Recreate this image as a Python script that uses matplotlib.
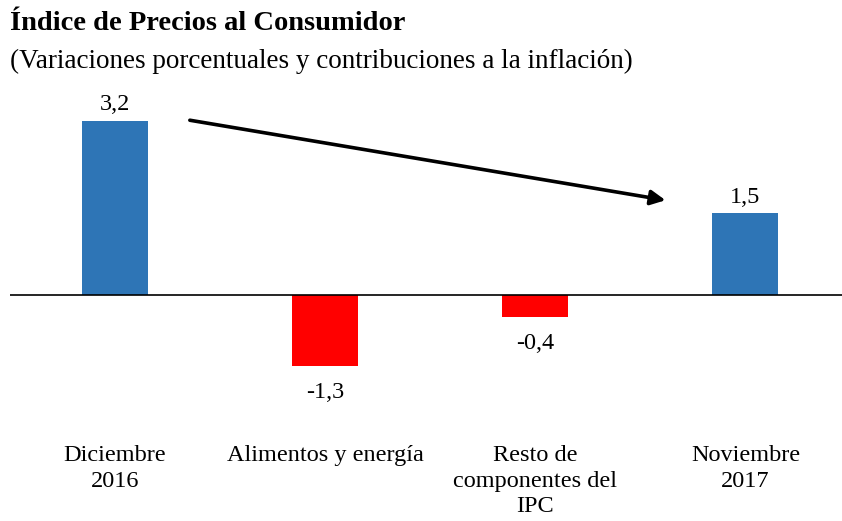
import matplotlib
matplotlib.use("Agg")
import matplotlib.pyplot as plt

categories = ["Diciembre\n2016", "Alimentos y energía", "Resto de\ncomponentes del\nIPC", "Noviembre\n2017"]
values = [3.2, -1.3, -0.4, 1.5]
value_labels = ["3,2", "-1,3", "-0,4", "1,5"]
bar_colors = ["#2E75B6", "#FF0000", "#FF0000", "#2E75B6"]

plt.rcParams['font.family'] = ['Liberation Serif', 'DejaVu Serif']

W, H = 842, 521
fig = plt.figure(figsize=(W / 100, H / 100), dpi=100)
ax = fig.add_axes([10 / W, (H - 431) / H, 832 / W, 332 / H])

x = list(range(len(categories)))
ax.bar(x, values, width=0.314, color=bar_colors, zorder=2)
ax.axhline(0, color="black", linewidth=1.2, zorder=3)

for xi, v, lab in zip(x, values, value_labels):
    if v >= 0:
        ax.annotate(lab, (xi, v), xytext=(0, 4), textcoords="offset points",
                    ha="center", va="bottom", fontsize=17.5)
    else:
        ax.annotate(lab, (xi, v), xytext=(0, -11.5), textcoords="offset points",
                    ha="center", va="top", fontsize=17.5)

# trend arrow from first to last bar
ax.annotate("", xy=(2.62, 1.74), xytext=(0.356, 3.21),
            arrowprops=dict(arrowstyle="-|>", color="black", lw=2.6,
                            mutation_scale=22, shrinkA=0, shrinkB=0))

ax.set_xlim(-0.5, 3.46)
ax.set_ylim(-2.5, 3.6)
ax.set_xticks(x)
ax.set_xticklabels(categories, fontsize=17.5, linespacing=1.3, va="top")
ax.tick_params(axis="x", length=0, pad=10)
ax.set_yticks([])
for s in ax.spines.values():
    s.set_visible(False)

fig.text(10 / W, 1 - 11 / H, "Índice de Precios al Consumidor", fontsize=20.5,
         fontweight="bold", ha="left", va="top")
fig.text(10 / W, 1 - 49 / H, "(Variaciones porcentuales y contribuciones a la inflación)",
         fontsize=19.5, ha="left", va="top")

fig.savefig("out.png", dpi=100)
